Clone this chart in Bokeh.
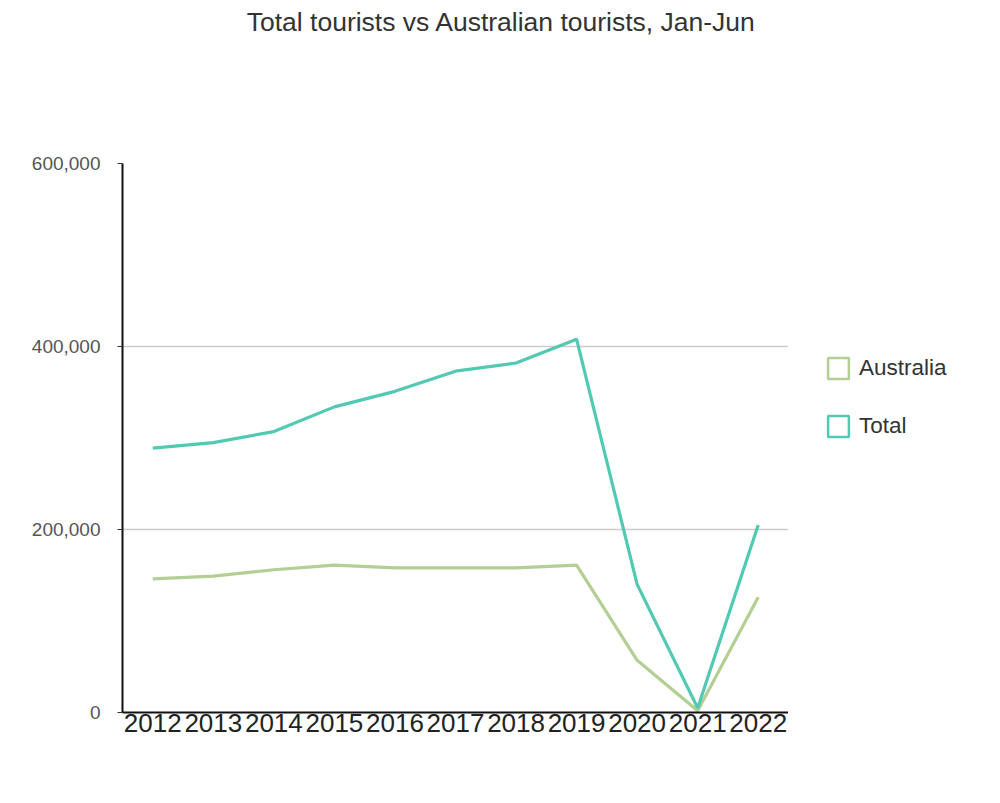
import math
from bokeh.plotting import figure
from bokeh.layouts import column, row
from bokeh.models import (FactorRange, Range1d, FixedTicker, NumeralTickFormatter,
                          Legend, LegendItem, Label)
from bokeh.embed import file_html
from bokeh.resources import INLINE

years = ["2012", "2013", "2014", "2015", "2016", "2017", "2018", "2019", "2020", "2021", "2022"]
total = [289000, 295000, 307000, 334000, 351000, 373000, 382000, 408000, 140000, 5000, 205000]
australia = [146000, 149000, 156000, 161000, 158000, 158000, 158000, 161000, 57000, 2000, 126000]
y_ticks = [0, 200000, 400000, 600000]
series_names = ["Australia", "Total"]

AUS_COLOR = "#b3cf94"
TOT_COLOR = "#52c9b2"
FONT = "Liberation Sans"
TITLE = "Total tourists vs Australian tourists, Jan-Jun"

# ---- title strip ----
t = figure(width=1000, height=50, x_range=Range1d(0, 1000), y_range=Range1d(0, 50),
           output_backend="svg", toolbar_location=None, min_border=0,
           x_axis_location=None, y_axis_location=None)
t.outline_line_color = None
t.grid.visible = False
t.add_layout(Label(x=501, y=29, text=TITLE, text_align="center",
                   text_baseline="alphabetic", text_font=FONT,
                   text_font_size="26.5px", text_color="#333333"))

# ---- main chart ----
p = figure(width=788, height=753, x_range=FactorRange(factors=years),
           y_range=Range1d(0, 600000), output_backend="svg", toolbar_location=None,
           min_border_left=122, min_border_right=0, min_border_top=113,
           min_border_bottom=91)
p.outline_line_color = None
p.xgrid.grid_line_color = None
p.ygrid.grid_line_color = "#cccccc"
p.ygrid.grid_line_width = 1.5
p.yaxis.ticker = FixedTicker(ticks=y_ticks)
p.yaxis.formatter = NumeralTickFormatter(format="0,0")
p.yaxis.minor_tick_line_color = None
p.yaxis.major_tick_in = 0
p.yaxis.major_tick_out = 5
p.yaxis.major_tick_line_color = "#333333"
p.yaxis.axis_line_color = "#111111"
p.yaxis.axis_line_width = 2
p.yaxis.major_label_text_font = FONT
p.yaxis.major_label_text_font_size = "19px"
p.yaxis.major_label_text_color = "#555555"
p.yaxis.major_label_standoff = 17

p.xaxis.axis_line_color = "#111111"
p.xaxis.axis_line_width = 2
p.xaxis.major_tick_line_color = None
p.xaxis.minor_tick_line_color = None
p.xaxis.major_tick_in = 0
p.xaxis.major_tick_out = 0
p.xaxis.major_label_standoff = 1
p.xaxis.major_label_text_font = FONT
p.xaxis.major_label_text_font_size = "26px"
p.xaxis.major_label_text_color = "#222222"

p.line(years, australia, line_color=AUS_COLOR, line_width=3.2)
p.line(years, total, line_color=TOT_COLOR, line_width=3.2)

# ---- legend strip ----
g = figure(width=212, height=753, x_range=Range1d(0, 1), y_range=Range1d(0, 1),
           output_backend="svg", toolbar_location=None, min_border=0,
           x_axis_location=None, y_axis_location=None)
g.outline_line_color = None
g.grid.visible = False
nan = float("nan")
keys = []
for name, col in zip(series_names, [AUS_COLOR, TOT_COLOR]):
    r = g.quad(left=[nan], right=[nan], top=[nan], bottom=[nan], fill_color="white",
               line_color=col, line_width=2.5)
    keys.append(LegendItem(label=name, renderers=[r]))

legend = Legend(items=keys, location=(37, 273), orientation="vertical",
                border_line_color=None, background_fill_alpha=0,
                padding=0, margin=0, spacing=32,
                glyph_width=26, glyph_height=26, label_standoff=8,
                label_text_font=FONT, label_text_font_size="22.5px",
                label_text_color="#333333")
g.add_layout(legend, "center")

layout = column(t, row(p, g, spacing=0), spacing=0)
open("out.html", "w").write(file_html(layout, INLINE))
